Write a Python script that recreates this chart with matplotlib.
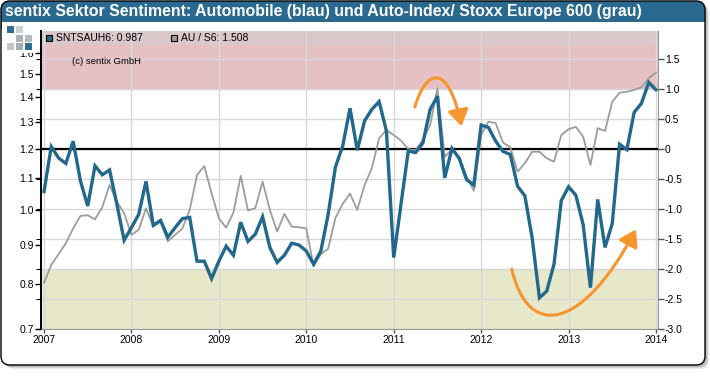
import matplotlib
matplotlib.use('Agg')
import matplotlib.pyplot as plt
from matplotlib.patches import FancyBboxPatch, Rectangle, FancyArrowPatch
from matplotlib.path import Path

plt.rcParams['font.family'] = ['Liberation Sans', 'DejaVu Sans']

# sentix Sektor Sentiment Automobile, monatlich Jan 2007 - Jan 2014 (rechte Achse)
sentiment = [-0.71, 0.04, -0.15, -0.24, 0.13, -0.53, -0.95, -0.28, -0.43, -0.35, -0.92, -1.52,
             -1.31, -1.09, -0.54, -1.27, -1.19, -1.47, -1.31, -1.16, -1.14, -1.87, -1.87, -2.16,
             -1.87, -1.62, -1.77, -1.22, -1.54, -1.42, -1.13, -1.64, -1.89, -1.77, -1.57, -1.60,
             -1.70, -1.92, -1.70, -1.09, -0.30, 0.05, 0.68, -0.02, 0.47, 0.66, 0.79, 0.30,
             -1.81, -0.92, -0.03, -0.06, 0.10, 0.66, 0.88, -0.48, 0.01, -0.16, -0.51, -0.60,
             0.40, 0.36, 0.13, -0.04, -0.09, -0.62, -0.78, -1.48, -2.48, -2.37, -1.92, -0.86,
             -0.63, -0.77, -1.26, -2.31, -0.84, -1.64, -1.24, 0.08, -0.01, 0.61, 0.76, 1.11,
             0.987]
# Auto-Index relativ zum Stoxx Europe 600 (linke Achse, log)
au_s6 = [0.804, 0.848, 0.876, 0.905, 0.946, 0.982, 0.984, 0.972, 1.008, 1.077, 1.025, 0.990,
         0.928, 0.942, 1.005, 0.951, 0.965, 0.910, 0.928, 0.946, 1.000, 1.110, 1.140, 1.051,
         0.975, 0.948, 0.992, 1.107, 0.998, 1.005, 1.088, 1.000, 0.937, 0.988, 0.951, 0.949,
         0.946, 0.845, 0.876, 0.890, 0.976, 1.018, 1.050, 1.000, 1.077, 1.133, 1.239, 1.270,
         1.251, 1.230, 1.199, 1.196, 1.232, 1.289, 1.439, 1.172, 1.199, 1.170, 1.104, 1.059,
         1.251, 1.302, 1.296, 1.223, 1.206, 1.121, 1.150, 1.190, 1.190, 1.167, 1.155, 1.251,
         1.273, 1.282, 1.245, 1.144, 1.277, 1.266, 1.382, 1.420, 1.424, 1.432, 1.443, 1.483,
         1.508]
years = [2007, 2008, 2009, 2010, 2011, 2012, 2013, 2014]
left_ticks = [0.7, 0.8, 0.9, 1.0, 1.1, 1.2, 1.3, 1.4, 1.5, 1.6]
right_ticks = [-3.0, -2.5, -2.0, -1.5, -1.0, -0.5, 0, 0.5, 1.0, 1.5]
right_labels = ['-3.0', '-2.5', '-2.0', '-1.5', '-1.0', '-0.5', '0', '0.5', '1.0', '1.5']

months = list(range(len(sentiment)))
BLUE = '#22688c'
BAR = '#2a6a90'
GRAY = '#9c9c9c'
ORANGE = '#f7952f'

fig = plt.figure(figsize=(7.1, 3.76), dpi=100)

# Hintergrund: Rahmen + Titelleiste (Pixelkoordinaten)
bg = fig.add_axes([0, 0, 1, 1], zorder=-1)
bg.set_xlim(0, 710)
bg.set_ylim(376, 0)
bg.axis('off')
for off, a in [(4, 0.15), (3, 0.2), (2, 0.3)]:
    bg.add_patch(FancyBboxPatch((1 + off, 1 + off), 704, 364, boxstyle='round,pad=0,rounding_size=9',
                                fc='#777777', ec='none', alpha=a))
bg.add_patch(FancyBboxPatch((1, 1), 704, 364, boxstyle='round,pad=0,rounding_size=9',
                            fc='white', ec='none'))
bg.add_patch(FancyBboxPatch((1, 1), 704, 34, boxstyle='round,pad=0,rounding_size=9',
                            fc=BAR, ec='none'))
bg.add_patch(Rectangle((1.5, 22), 703, 16, fc='white', ec='none'))
bg.add_patch(FancyBboxPatch((1, 1), 704, 364, boxstyle='round,pad=0,rounding_size=9',
                            fc='none', ec='black', lw=1))
bg.text(5, 11.5, 'sentix Sektor Sentiment: Automobile (blau) und Auto-Index/ Stoxx Europe 600 (grau)',
        color='white', fontsize=11.4, fontweight='bold', va='center', ha='left')

# Hauptachse (Skala der rechten Achse) fuer Baender und Gitter
x0, x1 = -3 / 7.286, 84 + 2 / 7.286
ax = fig.add_axes([41 / 710, 1 - 329 / 376, 617 / 710, 298 / 376])
ax.set_xlim(x0, x1)
ax.set_ylim(-3, 1.967)
ax.set_axisbelow(True)
ax.axhspan(1.0, 1.967, color='#e5c1c4', lw=0, zorder=0.1)
ax.axhspan(-3, -2.0, color='#e7e7ca', lw=0, zorder=0.1)
ax.add_patch(Rectangle((0, 1 - 14 / 298), 1, 14 / 298, transform=ax.transAxes,
                       fc='#dac7c9', ec='none', zorder=0.2))
ax.set_yticks(right_ticks)
ax.set_xticks([12 * i for i in range(len(years))])
ax.set_xticklabels([str(y) for y in years], fontsize=7.5)
ax.grid(True, color='#d8d8d8', lw=1)
ax.tick_params(axis='y', left=False, labelleft=False)
ax.tick_params(axis='x', length=3, width=1, color='#555555', pad=1)
ax.axhline(0, color='black', lw=1.6, zorder=2)
ax.spines['top'].set_visible(False)
ax.spines['left'].set_color('black')
ax.spines['left'].set_linewidth(1.4)
ax.spines['right'].set_color('#999999')
ax.spines['bottom'].set_color('#999999')

# grau: AU / S6, log-Skala links
axg = ax.twinx()
axg.set_yscale('log')
axg.set_ylim(0.7, 1.708)
axg.plot(months, au_s6, color=GRAY, lw=1.3, zorder=3)
axg.yaxis.tick_left()
axg.set_yticks(left_ticks)
axg.set_yticklabels([f'{v:.1f}' for v in left_ticks], fontsize=7.5)
axg.minorticks_off()
axg.tick_params(axis='y', length=4, width=1, color='black', pad=1)
for s in axg.spines.values():
    s.set_visible(False)

# blau: Sentiment, rechte Achse
axb = ax.twinx()
axb.set_ylim(-3, 1.967)
axb.plot(months, sentiment, color=BLUE, lw=2.4, zorder=4, solid_joinstyle='miter')
axb.set_yticks(right_ticks)
axb.set_yticklabels(right_labels, fontsize=7.5)
axb.tick_params(axis='y', length=4, width=1, color='#555555', pad=1)
for s in axb.spines.values():
    s.set_visible(False)
axb.set_xlim(x0, x1)

# orange Pfeile
p1 = Path([(50.9, 0.70), (52.6, 1.39), (55.6, 1.39), (57.3, 0.38)],
          [Path.MOVETO, Path.CURVE4, Path.CURVE4, Path.CURVE4])
p2 = Path([(64.2, -2.0), (66.5, -3.2), (74.0, -3.0), (81.25, -1.34)],
          [Path.MOVETO, Path.CURVE4, Path.CURVE4, Path.CURVE4])
for p in (p1, p2):
    axb.add_patch(FancyArrowPatch(path=p, transform=axb.transData,
                                  arrowstyle='-|>,head_length=0.7,head_width=0.45',
                                  mutation_scale=14, color=ORANGE, lw=2.2, zorder=6))

# Overlay: Logo, Legende, Copyright
ov = fig.add_axes([0, 0, 1, 1], zorder=5)
ov.set_xlim(0, 710)
ov.set_ylim(376, 0)
ov.axis('off')
ov.add_patch(Rectangle((2, 23), 34, 29.5, fc='white', ec='none'))
logo = [(7, 26, '#326e98'), (16, 26, '#c9d1d7'),
        (16, 35, '#a9b3ba'), (25, 35, '#b5bdc3'),
        (7, 43, '#bdc6cc'), (16, 43, '#a3adb4'), (25, 43, '#2f6d97')]
for lx, ly, lc in logo:
    ov.add_patch(Rectangle((lx, ly), 6.5, 6.5, fc=lc, ec='none'))
ov.add_patch(Rectangle((46, 34.5), 6, 6, fc=BLUE, ec='black', lw=0.8))
ov.text(56, 37.8, f'SNTSAUH6: {sentiment[-1]:.3f}', fontsize=7.5, va='center')
ov.add_patch(Rectangle((171, 34.5), 6, 6, fc=GRAY, ec='black', lw=0.8))
ov.text(181, 37.8, f'AU / S6: {au_s6[-1]:.3f}', fontsize=7.5, va='center')
ov.text(72.5, 61.5, '(c) sentix GmbH', fontsize=6.8, va='center')

fig.savefig('out.png', dpi=100)
